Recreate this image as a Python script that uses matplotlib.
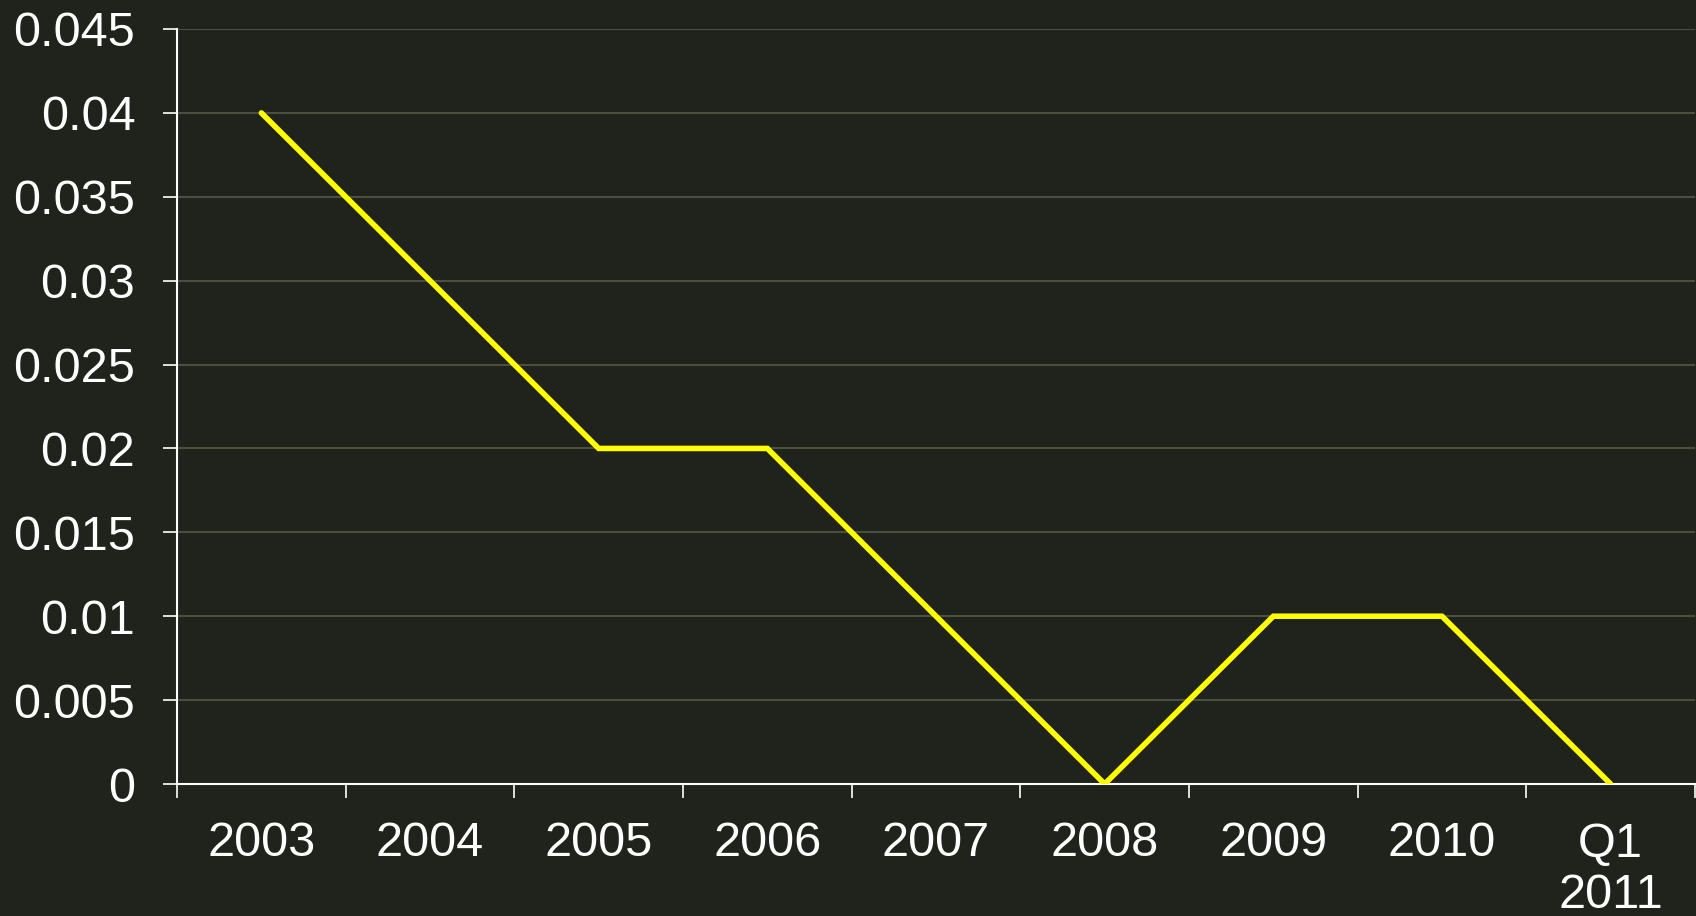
import matplotlib
matplotlib.use("Agg")
import matplotlib.pyplot as plt
from matplotlib.ticker import FuncFormatter, FixedLocator

categories = ["2003", "2004", "2005", "2006", "2007", "2008", "2009", "2010", "Q1\n2011"]
values = [0.04, 0.03, 0.02, 0.02, 0.01, 0.0, 0.01, 0.01, 0.0]
yticks = [0, 0.005, 0.01, 0.015, 0.02, 0.025, 0.03, 0.035, 0.04, 0.045]

bg = "#20221c"
grid_c = "#4b4f3e"
plt.rcParams['font.family'] = ['Liberation Sans', 'DejaVu Sans']

fig = plt.figure(figsize=(16.96, 9.16), dpi=100, facecolor=bg)
ax = fig.add_axes([177/1696, 1 - 784/916, (1695 - 177)/1696, (784 - 29)/916])
ax.set_facecolor(bg)

x = [i + 0.5 for i in range(len(categories))]
ax.plot(x, values, color="#ffff00", lw=4.0, solid_capstyle="round", solid_joinstyle="miter", zorder=3)

ax.set_xlim(0, len(categories))
ax.set_ylim(0, 0.045)
ax.set_yticks(yticks)
ax.yaxis.set_major_formatter(FuncFormatter(lambda v, p: "%g" % round(v, 4)))
ax.xaxis.set_major_locator(FixedLocator(range(len(categories) + 1)))
ax.xaxis.set_major_formatter(FuncFormatter(lambda v, p: ""))
ax.xaxis.set_minor_locator(FixedLocator(x))
ax.set_xticklabels(categories, minor=True)

ax.grid(axis="y", color=grid_c, lw=1.5, zorder=1)
ax.set_axisbelow(True)
for s in ["top", "right"]:
    ax.spines[s].set_visible(False)
for s in ["left", "bottom"]:
    ax.spines[s].set_color("white")
    ax.spines[s].set_linewidth(1.5)

ax.tick_params(axis="y", which="major", length=10, width=1.2, color="white", labelcolor="white", labelsize=35, pad=20)
ax.tick_params(axis="x", which="major", length=10, width=1.2, color="white", labelsize=35)
ax.tick_params(axis="x", which="minor", length=0, labelcolor="white", labelsize=35, pad=27)

fig.savefig("out.png", dpi=100, facecolor=bg)
